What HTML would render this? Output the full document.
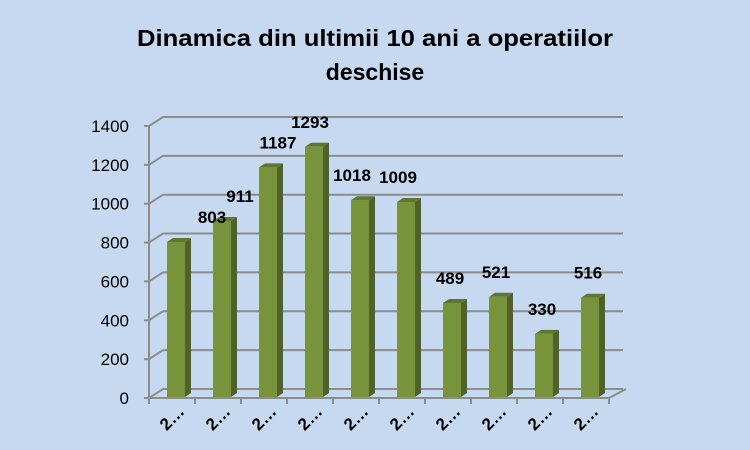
<!DOCTYPE html>
<html><head><meta charset="utf-8"><style>
html,body{margin:0;padding:0;background:#c6d9f1;}
svg{display:block;font-family:"Liberation Sans",sans-serif;}
</style></head><body>
<svg id="chart" width="750" height="450" viewBox="0 0 750 450">
<rect width="750" height="450" fill="#c6d9f1"/>
<text x="375" y="46" text-anchor="middle" font-size="23" font-weight="bold" textLength="476" lengthAdjust="spacingAndGlyphs">Dinamica din ultimii 10 ani a operatiilor</text>
<text x="375" y="80" text-anchor="middle" font-size="23" font-weight="bold">deschise</text>
<g id="grid"></g><g id="bars"></g><g id="labels"></g>
</svg>
<script>
const categories = ["2…","2…","2…","2…","2…","2…","2…","2…","2…","2…"];
const values = [803, 911, 1187, 1293, 1018, 1009, 489, 521, 330, 516];
const yTicks = [0, 200, 400, 600, 800, 1000, 1200, 1400];
const labelDx = [36, 18, 10, -4, -8, -8, -2, -2, -2, -2];

const NS = "http://www.w3.org/2000/svg";
const X0 = 149, Y0 = 398, STEP = 46, PX = 0.1943, DX = 14, DY = 9;
const yFront = v => Y0 - v * PX;
const xBand = i => X0 + STEP * i;
function mk(tag, attrs, parent){const e=document.createElementNS(NS,tag);for(const k in attrs)e.setAttribute(k,attrs[k]);parent.appendChild(e);return e;}
const grid=document.getElementById('grid'), bars=document.getElementById('bars'), labels=document.getElementById('labels');
const xEnd = xBand(categories.length);
yTicks.forEach(t=>{
  const y=yFront(t);
  const g=mk('polyline',{points:`${X0},${y} ${X0+DX},${y-DY} ${xEnd+DX},${y-DY}`,fill:'none',stroke:'#8c8c8c','stroke-width':2},grid);
  
  
  const tk=mk('line',{x1:X0-5,y1:y,x2:X0,y2:y,stroke:'#8c8c8c','stroke-width':2},grid);
  
  
  const tl=mk('text',{x:X0-20,y:y+6,'text-anchor':'end','font-size':17,fill:'#000'},grid);
  tl.textContent=t;
  
  
});
const ax=mk('line',{x1:X0,y1:yFront(0),x2:X0,y2:yFront(1400),stroke:'#8c8c8c','stroke-width':2},grid);


const fl=mk('polyline',{points:`${X0},${Y0} ${xEnd},${Y0} ${xEnd+DX+3},${Y0-DY}`,fill:'none',stroke:'#8c8c8c','stroke-width':2},grid);


for(let i=0;i<=categories.length;i++){
  const t=mk('line',{x1:xBand(i),y1:Y0,x2:xBand(i),y2:Y0+6,stroke:'#8c8c8c','stroke-width':2},grid);
  
  
}
values.forEach((v,i)=>{
  const x=xBand(i)+18, w=18, d=6, dh=4, yb=Y0-1, yt=yFront(v);
  const g=mk('g',{},bars);
  
  
  mk('polygon',{points:`${x+w},${yb} ${x+w+d},${yb-dh} ${x+w+d},${yt-dh} ${x+w},${yt}`,fill:'#4f6228'},g);
  mk('polygon',{points:`${x},${yt} ${x+d},${yt-dh} ${x+w+d},${yt-dh} ${x+w},${yt}`,fill:'#5f7530'},g);
  mk('rect',{x:x,y:yt,width:w,height:yb-yt,fill:'#77933c'},g);
  const lb=mk('text',{x:x+w/2+labelDx[i],y:yt-19,'text-anchor':'middle','font-size':17,'font-weight':'bold'},labels);
  lb.textContent=v;
  
  
  const cx=x+w/2, cy=422;
  const cl=mk('text',{x:cx,y:cy,'text-anchor':'middle','font-size':17,'font-weight':'bold',transform:`rotate(-45 ${cx} ${cy})`},labels);
  cl.textContent=categories[i];
  
  
});
</script>
</body></html>
